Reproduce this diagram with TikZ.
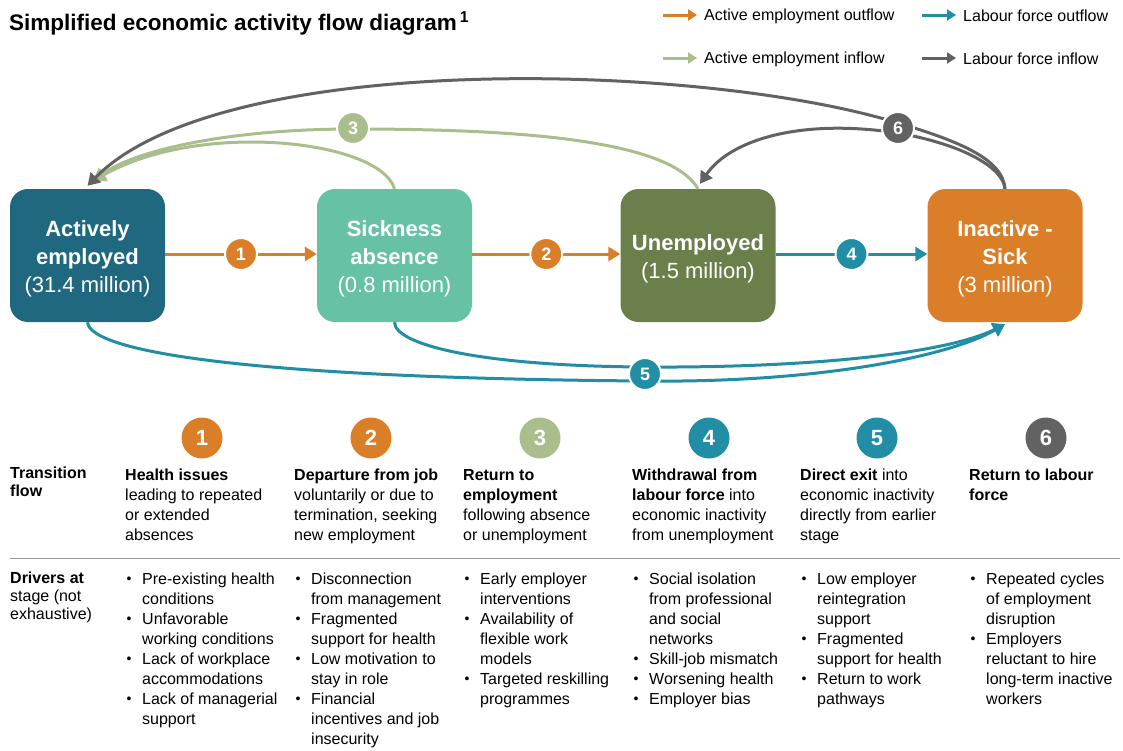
\documentclass[tikz,border=0pt]{standalone}
\usepackage{fontspec}
\setmainfont{Liberation Sans}
\usetikzlibrary{arrows.meta}

\definecolor{orangeC}{RGB}{218,127,39}
\definecolor{tealC}{RGB}{33,142,166}
\definecolor{greenC}{RGB}{169,189,141}
\definecolor{grayC}{RGB}{98,98,98}
\definecolor{empC}{RGB}{31,104,128}
\definecolor{sickC}{RGB}{102,193,165}
\definecolor{unC}{RGB}{107,127,75}
\definecolor{ruleC}{RGB}{150,150,150}

\tikzset{
  stage/.style={rounded corners=18pt, minimum width=155pt, minimum height=133pt, inner sep=0pt},
  stagetxt/.style={inner sep=0pt, text=white, align=center, font=\fontsize{22}{28}\selectfont},
  flow/.style={draw=#1, line width=3pt, -{Triangle[length=12pt,width=14pt]}},
  legarrow/.style={draw=#1, line width=3pt, -{Triangle[length=9pt,width=11pt]}},
  flownum/.style={circle, minimum size=32pt, inner sep=0pt, draw=white, line width=2pt,
    text=white, font=\bfseries\fontsize{18}{18}\selectfont},
  bignum/.style={circle, minimum size=41pt, inner sep=0pt, text=white,
    font=\bfseries\fontsize{22}{22}\selectfont},
  legtxt/.style={anchor=west, inner sep=0pt, font=\fontsize{16}{19}\selectfont},
  coltxt/.style={anchor=base west, inner sep=0pt, font=\fontsize{16}{20}\selectfont},
  rowlbl/.style={anchor=base west, inner sep=0pt, font=\fontsize{16}{18}\selectfont}
}
\newcommand{\bul}[1]{\makebox[17pt][l]{\hspace{1.5pt}\raisebox{0.5pt}{\fontsize{14}{14}\selectfont•}}#1}
\newcommand{\cont}[1]{\hspace*{17pt}#1}

\begin{document}
\begin{tikzpicture}[x=1pt,y=-1pt]
\path[fill=white] (0,0) rectangle (1123,749);
\node[anchor=base west, inner sep=0pt, font=\bfseries\fontsize{22.5}{26}\selectfont] (title) at (9,30)
  {Simplified economic activity flow diagram\hspace{3pt}\textsuperscript{1}};

\node[legtxt] (lgAo) at (704,16) {Active employment outflow};
\node[legtxt] (lgLo) at (963,16) {Labour force outflow};
\node[legtxt] (lgAi) at (704,59) {Active employment inflow};
\node[legtxt] (lgLi) at (963,59) {Labour force inflow};
\foreach \lg/\c in {lgAo/orangeC, lgLo/tealC, lgAi/greenC, lgLi/grayC}
  \draw[legarrow=\c] ([xshift=-41pt,yshift=1pt]\lg.west) -- ([xshift=-7pt,yshift=1pt]\lg.west);

\node[stage, fill=empC] (AE) at (87.5,255.5) {};
\node[stage, fill=sickC] (SA) at (394.5,255.5) {};
\node[stage, fill=unC] (UN) at (698,255.5) {};
\node[stage, fill=orangeC] (IS) at (1005,255.5) {};
\node[stagetxt] (AEt) at ([yshift=-3.5pt]AE.center) {\textbf{Actively}\\\textbf{employed}\\(31.4 million)};
\node[stagetxt] (SAt) at ([yshift=-3.5pt]SA.center) {\textbf{Sickness}\\\textbf{absence}\\(0.8 million)};
\node[stagetxt] (UNt) at ([yshift=-3.5pt]UN.center) {\textbf{Unemployed}\\(1.5 million)};
\node[stagetxt] (ISt) at ([yshift=-3.5pt]IS.center) {\textbf{Inactive -}\\\textbf{Sick}\\(3 million)};

\draw[flow=greenC] (UN.north) .. controls (670,140) and (520,129) .. (353,129)
  .. controls (230,129) and (135,150) .. ([xshift=6pt,yshift=8pt]AE.north);
\draw[flow=greenC] (SA.north) .. controls (380,140) and (200,120) .. ([xshift=6pt,yshift=8pt]AE.north);
\draw[flow=grayC] (IS.north) .. controls (1003,160) and (962,142) .. (898,123)
  .. controls (700,62) and (220,50) .. ([yshift=3pt]AE.north);
\draw[flow=grayC] (IS.north) .. controls (1003,168) and (965,145) .. (898,133)
  .. controls (800,118) and (730,140) .. ([xshift=2pt,yshift=5pt]UN.north);
\draw[flow=tealC] (AE.south) .. controls (90,352) and (250,378) .. (645,381)
  .. controls (820,383) and (950,356) .. ([yshift=-2pt]IS.south);
\draw[flow=tealC] (SA.south) .. controls (395,345) and (480,366) .. (645,367)
  .. controls (820,368) and (950,352) .. ([yshift=-2pt]IS.south);

\foreach \from/\to/\n/\c in {AE/SA/1/orangeC, SA/UN/2/orangeC, UN/IS/4/tealC}
  \draw[flow=\c] ([yshift=1.5pt]\from.east) -- node[flownum, fill=\c] (f\n) {\n} ([yshift=1.5pt]\to.west);
\node[flownum, fill=greenC] (f3) at (353,128) {3};
\node[flownum, fill=grayC] (f6) at (898,128) {6};
\node[flownum, fill=tealC] (f5) at (645,374) {5};

\foreach \n/\x/\c in {1/202/orangeC, 2/371/orangeC, 3/540/greenC, 4/709/tealC, 5/877/tealC, 6/1046/grayC}
  \node[bignum, fill=\c] (b\n) at (\x,438) {\n};

\node[rowlbl] (lblT) at (10,478) {\begin{tabular}[t]{@{}l@{}}\textbf{Transition}\\\textbf{flow}\end{tabular}};
\node[rowlbl] (lblD) at (10,583) {\begin{tabular}[t]{@{}l@{}}\textbf{Drivers at}\\stage (not\\exhaustive)\end{tabular}};
\draw[ruleC, line width=1pt] (10,558) -- (1120,558);

\node[coltxt] (t1) at (125,480) {\begin{tabular}[t]{@{}l@{}}\textbf{Health issues}\\leading to repeated\\or extended\\absences\end{tabular}};
\node[coltxt] (t2) at (294,480) {\begin{tabular}[t]{@{}l@{}}\textbf{Departure from job}\\voluntarily or due to\\termination, seeking\\new employment\end{tabular}};
\node[coltxt] (t3) at (463,480) {\begin{tabular}[t]{@{}l@{}}\textbf{Return to}\\\textbf{employment}\\following absence\\or unemployment\end{tabular}};
\node[coltxt] (t4) at (632,480) {\begin{tabular}[t]{@{}l@{}}\textbf{Withdrawal from}\\\textbf{labour force} into\\economic inactivity\\from unemployment\end{tabular}};
\node[coltxt] (t5) at (800,480) {\begin{tabular}[t]{@{}l@{}}\textbf{Direct exit} into\\economic inactivity\\directly from earlier\\stage\end{tabular}};
\node[coltxt] (t6) at (969,480) {\begin{tabular}[t]{@{}l@{}}\textbf{Return to labour}\\\textbf{force}\end{tabular}};

\node[coltxt] (d1) at (125,584) {\begin{tabular}[t]{@{}l@{}}\bul{Pre-existing health}\\\cont{conditions}\\\bul{Unfavorable}\\\cont{working conditions}\\\bul{Lack of workplace}\\\cont{accommodations}\\\bul{Lack of managerial}\\\cont{support}\end{tabular}};
\node[coltxt] (d2) at (294,584) {\begin{tabular}[t]{@{}l@{}}\bul{Disconnection}\\\cont{from management}\\\bul{Fragmented}\\\cont{support for health}\\\bul{Low motivation to}\\\cont{stay in role}\\\bul{Financial}\\\cont{incentives and job}\\\cont{insecurity}\end{tabular}};
\node[coltxt] (d3) at (463,584) {\begin{tabular}[t]{@{}l@{}}\bul{Early employer}\\\cont{interventions}\\\bul{Availability of}\\\cont{flexible work}\\\cont{models}\\\bul{Targeted reskilling}\\\cont{programmes}\end{tabular}};
\node[coltxt] (d4) at (632,584) {\begin{tabular}[t]{@{}l@{}}\bul{Social isolation}\\\cont{from professional}\\\cont{and social}\\\cont{networks}\\\bul{Skill-job mismatch}\\\bul{Worsening health}\\\bul{Employer bias}\end{tabular}};
\node[coltxt] (d5) at (800,584) {\begin{tabular}[t]{@{}l@{}}\bul{Low employer}\\\cont{reintegration}\\\cont{support}\\\bul{Fragmented}\\\cont{support for health}\\\bul{Return to work}\\\cont{pathways}\end{tabular}};
\node[coltxt] (d6) at (969,584) {\begin{tabular}[t]{@{}l@{}}\bul{Repeated cycles}\\\cont{of employment}\\\cont{disruption}\\\bul{Employers}\\\cont{reluctant to hire}\\\cont{long-term inactive}\\\cont{workers}\end{tabular}};
\useasboundingbox (0,0) rectangle (1123,749);
\end{tikzpicture}
\end{document}
